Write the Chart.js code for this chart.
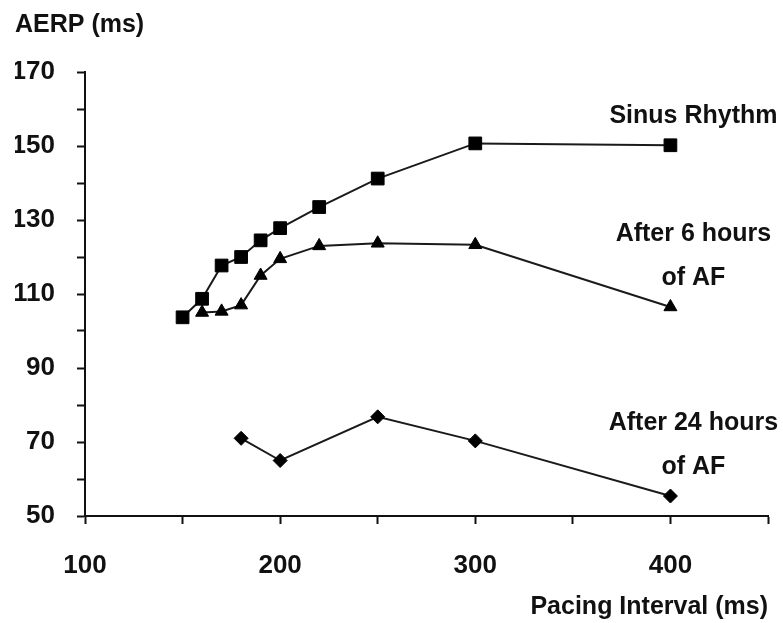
<!doctype html>
<html lang="en">
  <head>
    <meta charset="utf-8">
    <title>AERP vs pacing interval</title>
    <style>
      body { margin: 0; background: #fff; }
    </style>
  </head>
  <body>
    <canvas id="aerp-chart" width="783" height="623"></canvas>

    <script src="https://cdn.jsdelivr.net/npm/chart.js"></script>
    <script>
        // data
        var sinusX = [150, 160, 170, 180, 190, 200, 220, 250, 300, 400]
        var sinusY = [103.7, 108.7, 117.7, 120, 124.5, 127.8, 133.5, 141.2, 150.7, 150.2]

        var af6X = [160, 170, 180, 190, 200, 220, 250, 300, 400]
        var af6Y = [105, 105.3, 107, 115, 119.5, 123, 123.7, 123.3, 106.5]

        var af24X = [180, 200, 250, 300, 400]
        var af24Y = [71, 65, 76.8, 70.3, 55.4]

        var seriesLabels = [
            ['Sinus Rhythm'],
            ['After 6 hours', 'of AF'],
            ['After 24 hours', 'of AF']
        ]
        var xLabelTicks = [100, 200, 300, 400]
        var yLabelTicks = [50, 70, 90, 110, 130, 150, 170]

        var FONT = "'Liberation Sans', Arial, sans-serif"

        function toPoints(xs, ys) {
            return xs.map(function (x, i) { return {x: x, y: ys[i]} })
        }

        // writes each series name beside its last point
        var seriesLabelPlugin = {
            id: 'seriesLabels',
            afterDatasetsDraw: function (chart) {
                var ctx = chart.ctx
                ctx.save()
                ctx.fillStyle = '#111'
                ctx.font = 'bold 25px ' + FONT
                ctx.textAlign = 'center'
                ctx.textBaseline = 'middle'
                chart.data.datasets.forEach(function (ds, i) {
                    var meta = chart.getDatasetMeta(i)
                    var last = meta.data[meta.data.length - 1]
                    var lines = seriesLabels[i]
                    lines.forEach(function (line, j) {
                        var fromBottom = lines.length - 1 - j
                        ctx.fillText(line, last.x + 23, last.y - 29 - fromBottom * 44)
                    })
                })
                ctx.restore()
            }
        }

        var lineStyle = {
            borderColor: '#1a1a1a',
            borderWidth: 2,
            pointBackgroundColor: '#000',
            pointBorderColor: '#000',
            pointBorderWidth: 1,
            fill: false,
            tension: 0
        }

        new Chart(document.getElementById('aerp-chart'), {
            type: 'line',
            data: {
                datasets: [
                    Object.assign({label: 'Sinus Rhythm', data: toPoints(sinusX, sinusY),
                        pointStyle: 'rect', pointRadius: 9}, lineStyle),
                    Object.assign({label: 'After 6 hours of AF', data: toPoints(af6X, af6Y),
                        pointStyle: 'triangle', pointRadius: 7.5}, lineStyle),
                    Object.assign({label: 'After 24 hours of AF', data: toPoints(af24X, af24Y),
                        pointStyle: 'rectRot', pointRadius: 7}, lineStyle)
                ]
            },
            options: {
                responsive: false,
                animation: false,
                layout: { padding: { left: 15, right: 15, top: 0, bottom: 0 } },
                plugins: {
                    legend: { display: false },
                    tooltip: { enabled: false },
                    title: {
                        display: true,
                        text: 'AERP (ms)',
                        align: 'start',
                        color: '#111',
                        font: { family: FONT, size: 25, weight: 'bold' },
                        padding: { top: 10, bottom: 32 }
                    }
                },
                scales: {
                    x: {
                        type: 'linear',
                        min: 100,
                        max: 450,
                        afterFit: function (s) {
                            s.height = 107
                            s.paddingRight = 0  // no label at 450, so no overhang to reserve
                        },
                        border: { color: '#111', width: 2 },
                        grid: { drawOnChartArea: false, color: '#111', tickLength: 8, tickWidth: 2 },
                        ticks: {
                            stepSize: 50,
                            padding: 26,
                            color: '#111',
                            maxRotation: 0,
                            font: { family: FONT, size: 26, weight: 'bold' },
                            callback: function (v) { return xLabelTicks.indexOf(v) >= 0 ? v : '' }
                        },
                        title: {
                            display: true,
                            text: 'Pacing Interval (ms)',
                            align: 'end',
                            color: '#111',
                            font: { family: FONT, size: 25, weight: 'bold' },
                            padding: { bottom: 1 }
                        }
                    },
                    y: {
                        min: 50,
                        max: 170,
                        afterFit: function (s) { s.width = 70 },
                        border: { color: '#111', width: 2 },
                        grid: { drawOnChartArea: false, color: '#111', tickLength: 8, tickWidth: 2 },
                        ticks: {
                            stepSize: 10,
                            padding: 22,
                            color: '#111',
                            font: { family: FONT, size: 26, weight: 'bold' },
                            callback: function (v) { return yLabelTicks.indexOf(v) >= 0 ? v : '' }
                        }
                    }
                }
            },
            plugins: [seriesLabelPlugin]
        })
    </script>
  </body>
</html>
